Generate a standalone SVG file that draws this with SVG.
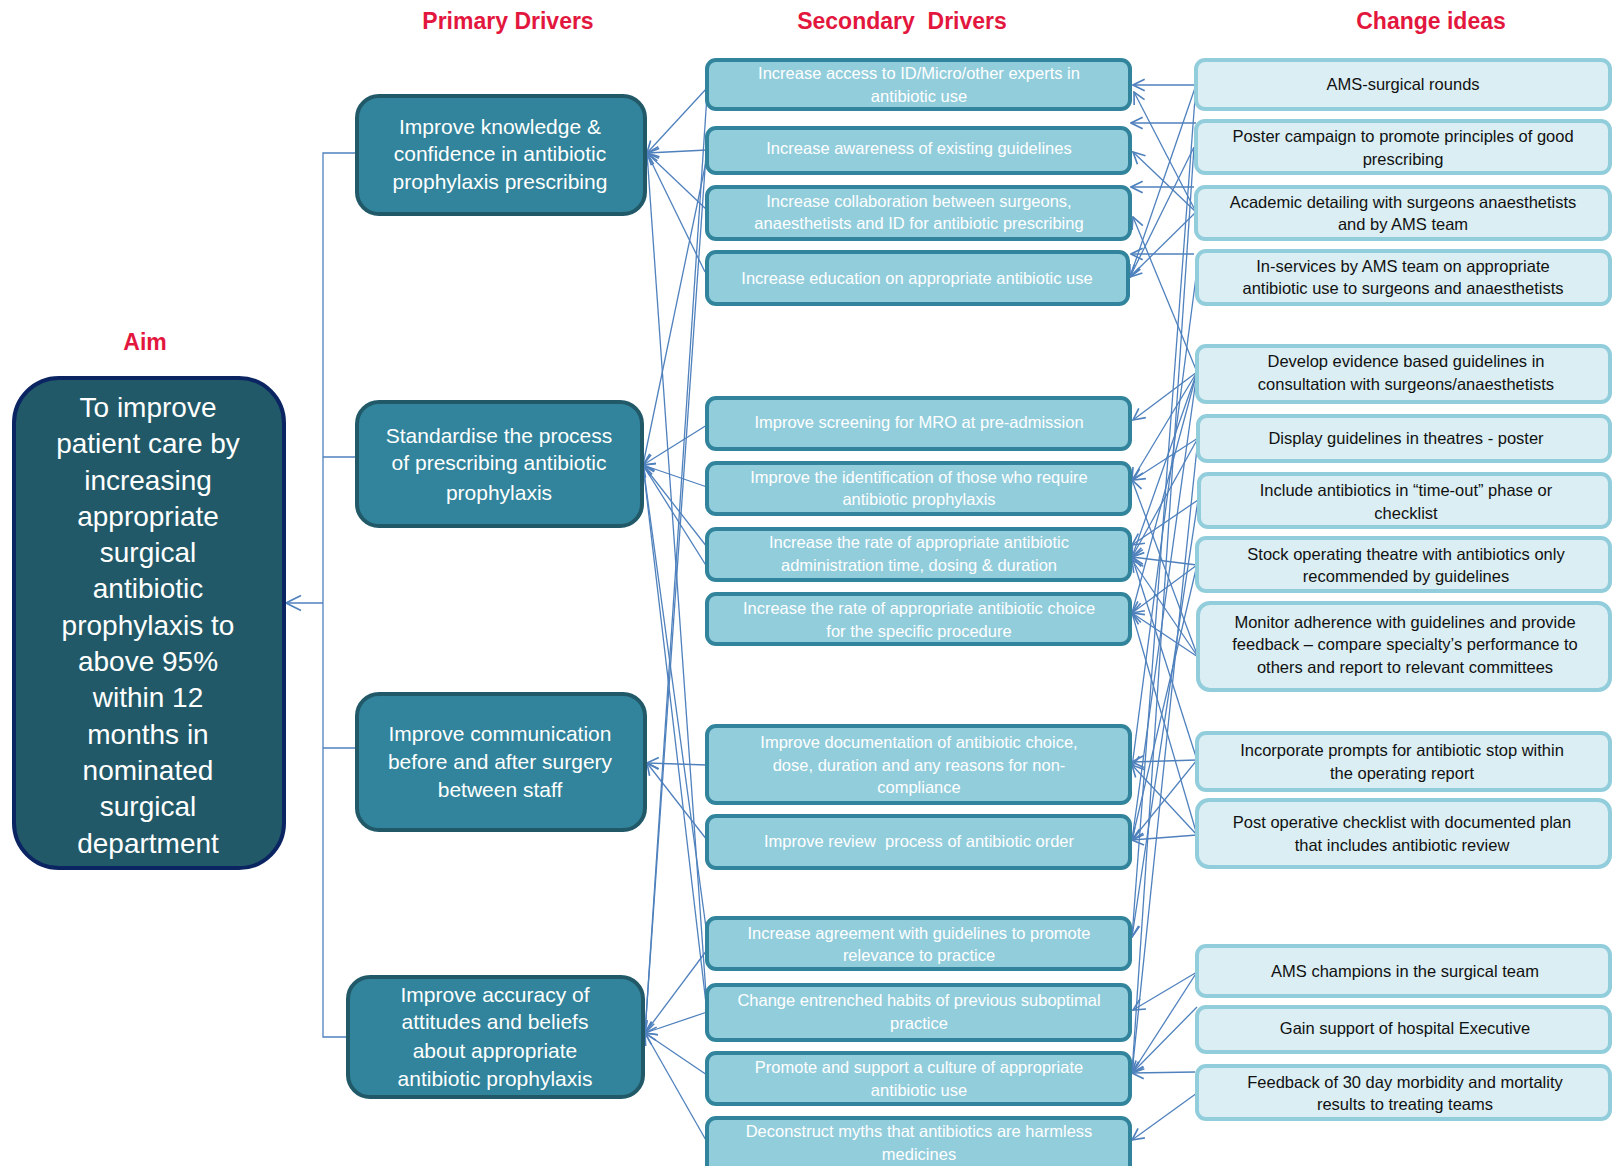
<svg xmlns="http://www.w3.org/2000/svg" width="1614" height="1166" viewBox="0 0 1614 1166">
<defs>
<style>
text{font-family:"Liberation Sans",Arial,sans-serif;text-anchor:middle}
.hdr{font-size:23px;font-weight:bold;fill:#E3173E}
.aim rect{fill:#215968;stroke:#0B2562;stroke-width:4}
.aim text{font-size:28px;fill:#fff}
.pd rect{fill:#31849B;stroke:#215968;stroke-width:4}
.pd text{font-size:21px;fill:#fff}
.sd rect{fill:#92CDDC;stroke:#31849B;stroke-width:4}
.sd text{font-size:16.5px;fill:#fff}
.ci rect{fill:#DAEEF3;stroke:#92CDDC;stroke-width:4}
.ci text{font-size:16.5px;fill:#111}
.cn line,.cn polyline{stroke:#4F81BD;stroke-width:1.3;fill:none}
.cn .a{marker-end:url(#arr)}
</style>
<marker id="arr" markerUnits="userSpaceOnUse" markerWidth="14" markerHeight="14" viewBox="0 0 12 12" refX="11" refY="6" orient="auto">
<path d="M1,1 L11,6 L1,11" fill="none" stroke="#4F81BD" stroke-width="1.4"/>
</marker>
<marker id="arrBig" markerUnits="userSpaceOnUse" markerWidth="18" markerHeight="18" viewBox="0 0 12 12" refX="11" refY="6" orient="auto">
<path d="M1,1 L11,6 L1,11" fill="none" stroke="#4F81BD" stroke-width="1.1"/>
</marker>
</defs>
<rect width="1614" height="1166" fill="#fff"/>

<g id="headers">
<text class="hdr" x="508" y="29">Primary Drivers</text>
<text class="hdr" x="902" y="29" xml:space="preserve">Secondary  Drivers</text>
<text class="hdr" x="1431" y="29">Change ideas</text>
<text class="hdr" x="145" y="350">Aim</text>
</g>

<g class="cn" id="connectors">
<!-- aim bracket -->
<polyline points="357,153 323,153 323,1037 348,1037"/>
<line x1="323" y1="457" x2="357" y2="457"/>
<line x1="323" y1="748" x2="357" y2="748"/>
<line x1="323" y1="603" x2="286" y2="603" style="marker-end:url(#arrBig)"/>
<!-- secondary to primary -->
<line class="a" x1="707" y1="88" x2="647" y2="153"/>
<line class="a" x1="707" y1="150" x2="647" y2="153"/>
<line class="a" x1="707" y1="210" x2="647" y2="153"/>
<line class="a" x1="705" y1="272" x2="647" y2="153"/>
<line class="a" x1="707" y1="1008" x2="647" y2="153"/>
<line class="a" x1="707" y1="157" x2="643" y2="465"/>
<line class="a" x1="707" y1="425" x2="643" y2="465"/>
<line class="a" x1="707" y1="487" x2="643" y2="465"/>
<line class="a" x1="707" y1="547" x2="643" y2="465"/>
<line class="a" x1="707" y1="567" x2="643" y2="465"/>
<line class="a" x1="707" y1="935" x2="643" y2="465"/>
<line class="a" x1="707" y1="1012" x2="643" y2="465"/>
<line class="a" x1="707" y1="765" x2="647" y2="763"/>
<line class="a" x1="707" y1="840" x2="647" y2="763"/>
<line class="a" x1="707" y1="95" x2="645" y2="1033"/>
<line class="a" x1="707" y1="140" x2="645" y2="1033"/>
<line class="a" x1="707" y1="950" x2="645" y2="1033"/>
<line class="a" x1="707" y1="1012" x2="645" y2="1033"/>
<line class="a" x1="707" y1="1075" x2="645" y2="1033"/>
<line class="a" x1="707" y1="1142" x2="645" y2="1033"/>
<!-- change ideas to secondary -->
<line class="a" x1="1196" y1="85" x2="1133" y2="85"/>
<line class="a" x1="1196" y1="123" x2="1131" y2="123"/>
<line class="a" x1="1194" y1="187" x2="1131" y2="187"/>
<line class="a" x1="1194" y1="254" x2="1131" y2="254"/>
<line class="a" x1="1196" y1="85" x2="1130" y2="277"/>
<line class="a" x1="1196" y1="212" x2="1134" y2="92"/>
<line class="a" x1="1196" y1="212" x2="1133" y2="152"/>
<line class="a" x1="1196" y1="212" x2="1130" y2="277"/>
<line class="a" x1="1194" y1="147" x2="1130" y2="277"/>
<line class="a" x1="1197" y1="372" x2="1133" y2="217"/>
<line class="a" x1="1197" y1="372" x2="1133" y2="420"/>
<line class="a" x1="1197" y1="372" x2="1132" y2="480"/>
<line class="a" x1="1197" y1="372" x2="1132" y2="557"/>
<line class="a" x1="1197" y1="372" x2="1132" y2="613"/>
<line class="a" x1="1198" y1="438" x2="1133" y2="480"/>
<line class="a" x1="1198" y1="438" x2="1132" y2="557"/>
<line class="a" x1="1198" y1="500" x2="1132" y2="545"/>
<line class="a" x1="1197" y1="565" x2="1132" y2="557"/>
<line class="a" x1="1197" y1="565" x2="1132" y2="613"/>
<line class="a" x1="1198" y1="657" x2="1132" y2="560"/>
<line class="a" x1="1198" y1="657" x2="1132" y2="613"/>
<line class="a" x1="1198" y1="657" x2="1132" y2="480"/>
<line class="a" x1="1197" y1="760" x2="1132" y2="762"/>
<line class="a" x1="1197" y1="760" x2="1132" y2="840"/>
<line class="a" x1="1197" y1="835" x2="1132" y2="765"/>
<line class="a" x1="1197" y1="835" x2="1132" y2="840"/>
<line class="a" x1="1197" y1="760" x2="1132" y2="557"/>
<line class="a" x1="1197" y1="835" x2="1132" y2="613"/>
<line class="a" x1="1197" y1="565" x2="1132" y2="840"/>
<line class="a" x1="1196" y1="277" x2="1132" y2="767"/>
<line class="a" x1="1196" y1="85" x2="1132" y2="937"/>
<line class="a" x1="1194" y1="147" x2="1132" y2="1073"/>
<line class="a" x1="1197" y1="372" x2="1132" y2="840"/>
<line class="a" x1="1198" y1="438" x2="1132" y2="1073"/>
<line class="a" x1="1198" y1="500" x2="1132" y2="937"/>
<line class="a" x1="1197" y1="972" x2="1133" y2="1010"/>
<line class="a" x1="1197" y1="972" x2="1132" y2="1073"/>
<line class="a" x1="1197" y1="1007" x2="1132" y2="1073"/>
<line class="a" x1="1195" y1="1072" x2="1132" y2="1073"/>
<line class="a" x1="1197" y1="1093" x2="1132" y2="1140"/>
</g>

<g id="aim" class="aim">
<rect x="14" y="378" width="270" height="490" rx="45"/>
<text x="148" y="417">To improve</text>
<text x="148" y="453">patient care by</text>
<text x="148" y="490">increasing</text>
<text x="148" y="526">appropriate</text>
<text x="148" y="562">surgical</text>
<text x="148" y="598">antibiotic</text>
<text x="148" y="635">prophylaxis to</text>
<text x="148" y="671">above 95%</text>
<text x="148" y="707">within 12</text>
<text x="148" y="744">months in</text>
<text x="148" y="780">nominated</text>
<text x="148" y="816">surgical</text>
<text x="148" y="853">department</text>
</g>

<g id="p1" class="pd"><rect x="357" y="96" width="288" height="118" rx="22"/>
<text x="500" y="134">Improve knowledge &amp;</text><text x="500" y="161">confidence in antibiotic</text><text x="500" y="189">prophylaxis prescribing</text></g>
<g id="p2" class="pd"><rect x="357" y="402" width="285" height="124" rx="22"/>
<text x="499" y="443">Standardise the process</text><text x="499" y="470">of prescribing antibiotic</text><text x="499" y="500">prophylaxis</text></g>
<g id="p3" class="pd"><rect x="357" y="694" width="288" height="136" rx="22"/>
<text x="500" y="741">Improve communication</text><text x="500" y="769">before and after surgery</text><text x="500" y="797">between staff</text></g>
<g id="p4" class="pd"><rect x="348" y="977" width="295" height="120" rx="22"/>
<text x="495" y="1002">Improve accuracy of</text><text x="495" y="1029">attitudes and beliefs</text><text x="495" y="1058">about appropriate</text><text x="495" y="1086">antibiotic prophylaxis</text></g>

<g id="s1" class="sd"><rect x="707" y="60" width="423" height="49" rx="9"/><text x="919" y="79">Increase access to ID/Micro/other experts in</text><text x="919" y="102">antibiotic use</text></g>
<g id="s2" class="sd"><rect x="707" y="128" width="423" height="45" rx="9"/><text x="919" y="154">Increase awareness of existing guidelines</text></g>
<g id="s3" class="sd"><rect x="707" y="187" width="423" height="52" rx="9"/><text x="919" y="207">Increase collaboration between surgeons,</text><text x="919" y="229">anaesthetists and ID for antibiotic prescribing</text></g>
<g id="s4" class="sd"><rect x="707" y="252" width="421" height="52" rx="9"/><text x="917" y="284">Increase education on appropriate antibiotic use</text></g>
<g id="s5" class="sd"><rect x="707" y="398" width="423" height="51" rx="9"/><text x="919" y="428">Improve screening for MRO at pre-admission</text></g>
<g id="s6" class="sd"><rect x="707" y="463" width="423" height="51" rx="9"/><text x="919" y="483">Improve the identification of those who require</text><text x="919" y="505">antibiotic prophylaxis</text></g>
<g id="s7" class="sd"><rect x="707" y="529" width="423" height="51" rx="9"/><text x="919" y="548">Increase the rate of appropriate antibiotic</text><text x="919" y="571">administration time, dosing &amp; duration</text></g>
<g id="s8" class="sd"><rect x="707" y="594" width="423" height="50" rx="9"/><text x="919" y="614">Increase the rate of appropriate antibiotic choice</text><text x="919" y="637">for the specific procedure</text></g>
<g id="s9" class="sd"><rect x="707" y="726" width="423" height="77" rx="9"/><text x="919" y="748">Improve documentation of antibiotic choice,</text><text x="919" y="771">dose, duration and any reasons for non-</text><text x="919" y="793">compliance</text></g>
<g id="s10" class="sd"><rect x="707" y="816" width="423" height="52" rx="9"/><text x="919" y="847" xml:space="preserve">Improve review  process of antibiotic order</text></g>
<g id="s11" class="sd"><rect x="707" y="918" width="423" height="51" rx="9"/><text x="919" y="939">Increase agreement with guidelines to promote</text><text x="919" y="961">relevance to practice</text></g>
<g id="s12" class="sd"><rect x="707" y="985" width="423" height="55" rx="9"/><text x="919" y="1006">Change entrenched habits of previous suboptimal</text><text x="919" y="1029">practice</text></g>
<g id="s13" class="sd"><rect x="707" y="1053" width="423" height="51" rx="9"/><text x="919" y="1073">Promote and support a culture of appropriate</text><text x="919" y="1096">antibiotic use</text></g>
<g id="s14" class="sd"><rect x="707" y="1118" width="423" height="60" rx="9"/><text x="919" y="1137">Deconstruct myths that antibiotics are harmless</text><text x="919" y="1160">medicines</text></g>

<g id="c1" class="ci"><rect x="1196" y="60" width="414" height="49" rx="9"/><text x="1403" y="90">AMS-surgical rounds</text></g>
<g id="c2" class="ci"><rect x="1196" y="121" width="414" height="52" rx="9"/><text x="1403" y="142">Poster campaign to promote principles of good</text><text x="1403" y="165">prescribing</text></g>
<g id="c3" class="ci"><rect x="1196" y="187" width="414" height="52" rx="9"/><text x="1403" y="208">Academic detailing with surgeons anaesthetists</text><text x="1403" y="230">and by AMS team</text></g>
<g id="c4" class="ci"><rect x="1197" y="251" width="413" height="53" rx="9"/><text x="1403" y="272">In-services by AMS team on appropriate</text><text x="1403" y="294">antibiotic use to surgeons and anaesthetists</text></g>
<g id="c5" class="ci"><rect x="1197" y="346" width="413" height="56" rx="9"/><text x="1406" y="367">Develop evidence based guidelines in</text><text x="1406" y="390">consultation with surgeons/anaesthetists</text></g>
<g id="c6" class="ci"><rect x="1198" y="416" width="412" height="45" rx="9"/><text x="1406" y="444">Display guidelines in theatres - poster</text></g>
<g id="c7" class="ci"><rect x="1199" y="474" width="411" height="53" rx="9"/><text x="1406" y="496">Include antibiotics in “time-out” phase or</text><text x="1406" y="519">checklist</text></g>
<g id="c8" class="ci"><rect x="1197" y="538" width="413" height="53" rx="9"/><text x="1406" y="560">Stock operating theatre with antibiotics only</text><text x="1406" y="582">recommended by guidelines</text></g>
<g id="c9" class="ci"><rect x="1198" y="603" width="412" height="87" rx="12"/><text x="1405" y="628">Monitor adherence with guidelines and provide</text><text x="1405" y="650">feedback – compare specialty’s performance to</text><text x="1405" y="673">others and report to relevant committees</text></g>
<g id="c10" class="ci"><rect x="1197" y="733" width="413" height="57" rx="9"/><text x="1402" y="756">Incorporate prompts for antibiotic stop within</text><text x="1402" y="779">the operating report</text></g>
<g id="c11" class="ci"><rect x="1197" y="800" width="413" height="67" rx="12"/><text x="1402" y="828">Post operative checklist with documented plan</text><text x="1402" y="851">that includes antibiotic review</text></g>
<g id="c12" class="ci"><rect x="1197" y="946" width="413" height="50" rx="9"/><text x="1405" y="977">AMS champions in the surgical team</text></g>
<g id="c13" class="ci"><rect x="1197" y="1007" width="413" height="45" rx="9"/><text x="1405" y="1034">Gain support of hospital Executive</text></g>
<g id="c14" class="ci"><rect x="1197" y="1066" width="413" height="53" rx="9"/><text x="1405" y="1088">Feedback of 30 day morbidity and mortality</text><text x="1405" y="1110">results to treating teams</text></g>
</svg>
